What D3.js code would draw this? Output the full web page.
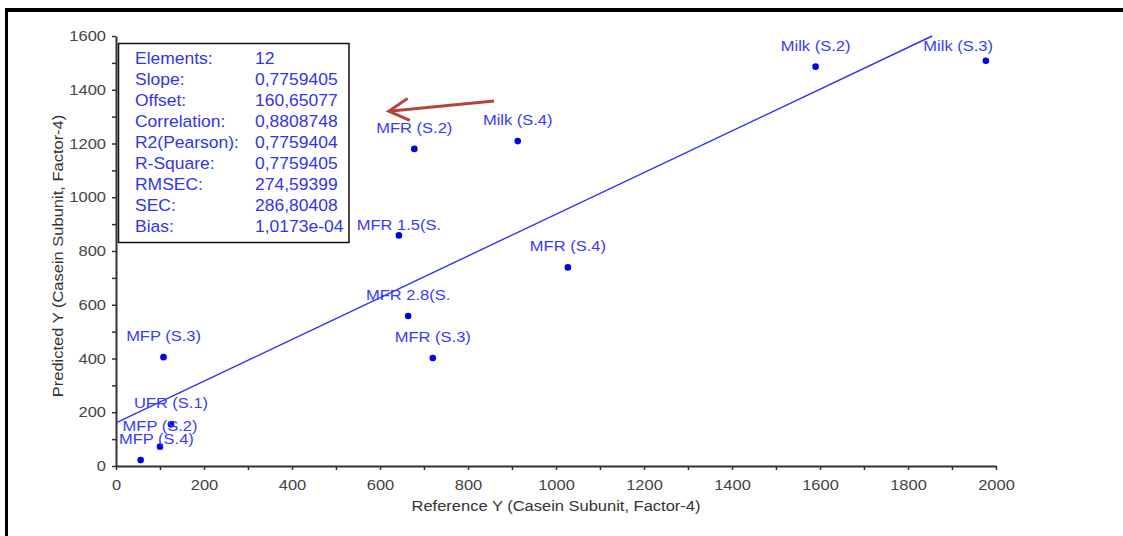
<!DOCTYPE html>
<html>
<head>
<meta charset="utf-8">
<script src="https://cdn.jsdelivr.net/npm/d3@7"></script>
<style>
  body { margin: 0; background: #fff; }
  svg { display: block; font-family: "Liberation Sans", Arial, sans-serif; }
</style>
</head>
<body>
<div id="graf"></div>
<script>
// data
const sampleNames = ["Milk (S.2)", "Milk (S.3)", "Milk (S.4)", "MFR (S.2)", "MFR 1.5(S.", "MFR (S.4)",
  "MFR 2.8(S.", "MFR (S.3)", "MFP (S.3)", "UFR (S.1)", "MFP (S.2)", "MFP (S.4)"]
const referenceY = [1590, 1977, 913, 678, 643, 1027, 664, 720, 108, 125, 100, 56]
const predictedY = [1486, 1508, 1209, 1180, 858, 739, 558, 402, 405, 155, 72, 22]

const statNames = ["Elements:", "Slope:", "Offset:", "Correlation:", "R2(Pearson):", "R-Square:", "RMSEC:", "SEC:", "Bias:"]
const statValues = ["12", "0,7759405", "160,65077", "0,8808748", "0,7759404", "0,7759405", "274,59399", "286,80408", "1,0173e-04"]
const slope = 0.7759405
const offset = 160.65077

const xTickLabels = [0, 200, 400, 600, 800, 1000, 1200, 1400, 1600, 1800, 2000]
const yTickLabels = [0, 200, 400, 600, 800, 1000, 1200, 1400, 1600]
const xMinorTicks = d3.range(0, 2001, 100)
const yMinorTicks = d3.range(0, 1601, 100)

// the plotting program nudged this label down to clear the stats box
const labelNudge = { "MFR 1.5(S.": 11 }

const anchoTotal = 1123
const altoTotal = 536
const margins = { top: 36, right: 127, bottom: 70, left: 116 }

const svg = d3.select("#graf")
  .append("svg")
  .attr("width", anchoTotal)
  .attr("height", altoTotal)

// frame of the screenshot
svg.append("rect").attr("x", 5).attr("y", 8).attr("width", anchoTotal - 5).attr("height", 4).attr("fill", "#000")
svg.append("rect").attr("x", 5).attr("y", 8).attr("width", 3).attr("height", altoTotal - 8).attr("fill", "#000")

const x = d3.scaleLinear().domain([0, 2000]).range([margins.left, anchoTotal - margins.right])
const y = d3.scaleLinear().domain([0, 1600]).range([altoTotal - margins.bottom, margins.top])

const squash = "scale(1,0.86)"

// axes
const xAxis = svg.append("g")
  .attr("transform", `translate(0,${y(0)})`)
  .call(d3.axisBottom(x).tickValues(xMinorTicks).tickSize(4).tickSizeOuter(0).tickPadding(12)
    .tickFormat(d => xTickLabels.includes(d) ? d : ""))
const yAxis = svg.append("g")
  .attr("transform", `translate(${x(0)},0)`)
  .call(d3.axisLeft(y).tickValues(yMinorTicks).tickSize(4).tickSizeOuter(0).tickPadding(6)
    .tickFormat(d => yTickLabels.includes(d) ? d : ""))

for (const a of [xAxis, yAxis]) {
  a.select(".domain").attr("stroke", "#333").attr("stroke-width", 2)
  a.selectAll(".tick line").attr("stroke", "#333").attr("stroke-width", 1.5)
  a.selectAll(".tick text")
    .attr("fill", "#444")
    .attr("font-size", 16.5)
    .attr("font-family", "Liberation Sans, Arial, sans-serif")
    .attr("transform", squash)
}

svg.append("text")
  .attr("transform", `translate(${(x(0) + x(2000)) / 2},511) ${squash}`)
  .attr("text-anchor", "middle")
  .attr("font-size", 16.5)
  .attr("fill", "#333")
  .text("Reference Y (Casein Subunit, Factor-4)")

svg.append("text")
  .attr("transform", `translate(63,${(y(0) + y(1600)) / 2 + 5}) rotate(-90) ${squash}`)
  .attr("text-anchor", "middle")
  .attr("font-size", 16.5)
  .attr("fill", "#333")
  .text("Predicted Y (Casein Subunit, Factor-4)")

// regression line, stopped at the top of the plot
const xEnd = (1600 - offset) / slope
svg.append("line")
  .attr("x1", x(0)).attr("y1", y(offset))
  .attr("x2", x(xEnd)).attr("y2", y(offset + slope * xEnd))
  .attr("stroke", "#3030ff")
  .attr("stroke-width", 1.4)

// points
const points = sampleNames.map((n, i) => ({ name: n, ref: referenceY[i], pred: predictedY[i] }))

svg.append("g")
  .selectAll("circle")
  .data(points)
  .enter()
  .append("circle")
  .attr("cx", d => x(d.ref))
  .attr("cy", d => y(d.pred))
  .attr("r", 3.3)
  .attr("fill", "#0000ee")

const labels = svg.append("g")
  .selectAll("text")
  .data(points)
  .enter()
  .append("text")
  .attr("text-anchor", "middle")
  .attr("font-size", 16.5)
  .attr("fill", "#3a3aff")
  .text(d => d.name)

// labels sit above their point, kept inside the plot area
labels.attr("transform", function (d) {
  const w = this.getComputedTextLength()
  let cx = Math.max(x(d.ref), x(0) + 3 + w / 2)
  cx = Math.min(cx, x(2000) - 3 - w / 2)
  const by = Math.max(y(d.pred) - 16 + (labelNudge[d.name] || 0), y(1600) + 14.5)
  return `translate(${cx},${by}) ${squash}`
})

// statistics box
const box = svg.append("g")
box.append("rect")
  .attr("x", 118.5).attr("y", 43.5)
  .attr("width", 230.5).attr("height", 199)
  .attr("fill", "#fff")
  .attr("stroke", "#111")
  .attr("stroke-width", 1.5)

box.selectAll(".sname")
  .data(statNames)
  .enter()
  .append("text")
  .attr("class", "sname")
  .attr("transform", (d, i) => `translate(135,${64 + i * 21}) scale(1,0.9)`)
  .attr("font-size", 17.5)
  .attr("fill", "#3333ee")
  .text(d => d)

box.selectAll(".svalue")
  .data(statValues)
  .enter()
  .append("text")
  .attr("class", "svalue")
  .attr("transform", (d, i) => `translate(255,${64 + i * 21}) scale(1,0.9)`)
  .attr("font-size", 17.5)
  .attr("fill", "#3333ee")
  .text(d => d)

// red arrow annotation
svg.append("defs")
  .append("marker")
  .attr("id", "head")
  .attr("markerUnits", "userSpaceOnUse")
  .attr("viewBox", "-24 -14 28 28")
  .attr("markerWidth", 28)
  .attr("markerHeight", 28)
  .attr("orient", "auto")
  .append("path")
  .attr("d", "M-20,-11 L0,0 L-20,11")
  .attr("fill", "none")
  .attr("stroke", "#b8433c")
  .attr("stroke-width", 3)

svg.append("line")
  .attr("x1", x(859)).attr("y1", y(1358))
  .attr("x2", x(620)).attr("y2", y(1320))
  .attr("stroke", "#b8433c")
  .attr("stroke-width", 3)
  .attr("marker-end", "url(#head)")
</script>
</body>
</html>
